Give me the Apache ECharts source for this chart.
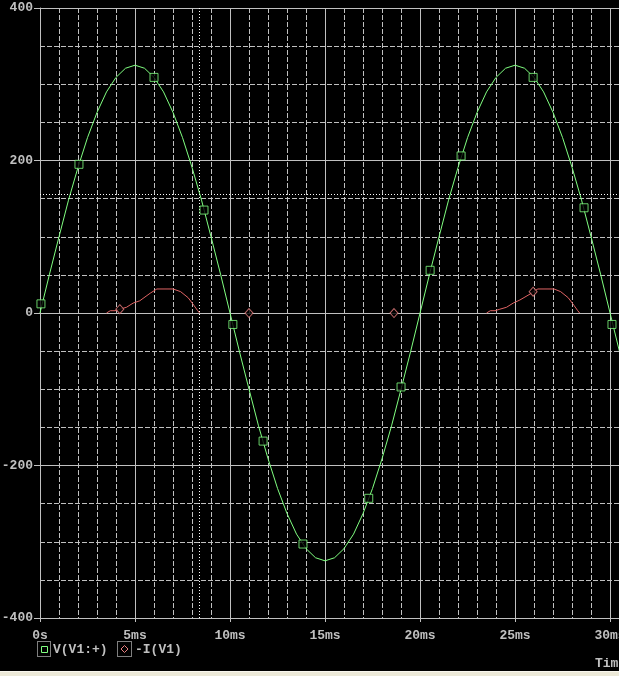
<!DOCTYPE html>
<html><head><meta charset="utf-8">
<script src="https://cdn.jsdelivr.net/npm/echarts@6/dist/echarts.min.js"></script>
<style>html,body{margin:0;padding:0;background:#000;overflow:hidden}#c{width:619px;height:676px;}</style>
</head><body><div id="c"></div>
<script>
// ---- data (time in ms) ----
const vTime = [0,0.5,1,1.5,2,2.5,3,3.5,4,4.5,5,5.5,6,6.5,7,7.5,8,8.5,9,9.5,10,
  10.5,11,11.5,12,12.5,13,13.5,14,14.5,15,15.5,16,16.5,17,17.5,18,18.5,19,19.5,20,
  20.5,21,21.5,22,22.5,23,23.5,24,24.5,25,25.5,26,26.5,27,27.5,28,28.5,29,29.5,30,30.5];
const vValues = [0,51,100,148,191,230,263,290,309,321,325,321,309,290,263,230,191,148,100,51,0,
  -51,-100,-148,-191,-230,-263,-290,-309,-321,-325,-321,-309,-290,-263,-230,-191,-148,-100,-51,0,
  51,100,148,191,230,263,290,309,321,325,321,309,290,263,230,191,148,100,51,0,-51];
// current pulses (zero elsewhere; the zero stretches coincide with the 0 axis line)
const iTime = [3.5,3.7,3.95,4.2,4.55,4.9,5.25,5.8,6.15,7.0,7.4,7.8,8.1,8.3,8.4,
  16,
  23.5,23.7,23.95,24.2,24.55,24.9,25.25,25.8,25.95,26.2,27.05,27.4,27.8,28.1,28.3,28.4];
const iValues = [0,3,3,5,7.5,13,16,26,31.5,31.5,28,20,10,3,0,
  '-',
  0,3,3,5,7.5,13,17,25,28,31.5,31.5,28,20,10,3,0];
const vMarkerTime = [0.05,2.05,6.0,8.63,10.15,11.74,13.84,17.3,19.0,20.53,22.16,25.95,28.63,30.1];
const vMarkerValues = [12,195,309,135,-15,-168,-303,-243,-97,56,206,309,138,-15];
const iMarkerTime = [4.2,11.0,18.63,25.95];
const iMarkerValues = [5,0,0,28];
const cursorTime = 8.37, cursorValue = 156;
const yTicks = [-400,-200,0,200,400];
const xLabelStep = 5;
const legendNames = ['V(V1:+)','-I(V1)'];

const zip = (a,b) => a.map((t,i)=>[t,b[i]]);
const GRAY = '#c0c0c0', GREEN = '#80ff80', RED = '#e06464';
const FONT = '"Liberation Mono", "DejaVu Sans Mono", monospace';

const chart = echarts.init(document.getElementById('c'), null, {renderer:'canvas'});
chart.setOption({
  backgroundColor:'#000',
  animation:false,
  grid:{left:40, right:0, top:8, bottom:58, containLabel:false, outerBoundsMode:'none'},
  xAxis:[
    {type:'value', min:0, max:30.47, interval:1,
     axisLine:{show:false,onZero:false}, axisTick:{show:false}, axisLabel:{show:false},
     splitLine:{show:true, lineStyle:{color:GRAY, width:1, type:[5,2]}}},
    {type:'value', min:0, max:30.47, interval:xLabelStep, position:'bottom',
     axisLine:{show:true,onZero:false,lineStyle:{color:GRAY,width:1}},
     axisTick:{show:true,length:4,lineStyle:{color:GRAY}},
     axisLabel:{show:true, margin:11, color:GRAY, fontFamily:FONT, fontWeight:'bold', fontSize:13,
       formatter:v => (Math.abs(v % xLabelStep) < 1e-6) ? (v===0 ? '0s' : v+'ms') : ''},
     splitLine:{show:true, lineStyle:{color:GRAY, width:1, type:'solid'}}}
  ],
  yAxis:[
    {type:'value', min:-400, max:400, interval:50,
     axisLine:{show:false,onZero:false}, axisTick:{show:false}, axisLabel:{show:false},
     splitLine:{show:true, lineStyle:{color:GRAY, width:1, type:[5,2]}}},
    {type:'value', min:yTicks[0], max:yTicks[yTicks.length-1], interval:200, position:'left',
     axisLine:{show:true,onZero:false,lineStyle:{color:GRAY,width:1}},
     axisTick:{show:true,length:6,lineStyle:{color:GRAY}},
     axisLabel:{show:true, margin:7, color:GRAY, fontFamily:FONT, fontWeight:'bold', fontSize:13},
     splitLine:{show:true, lineStyle:{color:GRAY, width:1, type:'solid'}}}
  ],
  series:[
    {name:legendNames[1], type:'line', xAxisIndex:0, yAxisIndex:0, data:zip(iTime,iValues),
     showSymbol:false, connectNulls:false, lineStyle:{color:RED, width:1}, z:2},
    {name:legendNames[0], type:'line', xAxisIndex:0, yAxisIndex:0, data:zip(vTime,vValues),
     showSymbol:false, lineStyle:{color:GREEN, width:1}, z:3,
     markLine:{silent:true, symbol:'none', label:{show:false}, z:4,
       data:[
         {xAxis:cursorTime, lineStyle:{color:'#ffffff', width:1, type:[1,2]}},
         {yAxis:cursorValue, lineStyle:{color:'#ffffff', width:1, type:[1,2]}}
       ]}},
    {type:'scatter', xAxisIndex:0, yAxisIndex:0, data:zip(vMarkerTime,vMarkerValues),
     symbol:'rect', symbolSize:8, z:8,
     itemStyle:{color:'#000', borderColor:GREEN, borderWidth:1}},
    {type:'scatter', xAxisIndex:0, yAxisIndex:0, data:zip(iMarkerTime,iMarkerValues),
     symbol:'diamond', symbolSize:[8,9], z:8,
     itemStyle:{color:'#000', borderColor:'#e88080', borderWidth:1}}
  ],
  graphic:[
    {type:'rect', shape:{x:37.5,y:641.5,width:13,height:15}, style:{fill:'none',stroke:'#ffffff',lineWidth:1,lineDash:[1,1]}},
    {type:'rect', shape:{x:41.5,y:646.5,width:6,height:6}, style:{fill:'#000',stroke:GREEN,lineWidth:1}},
    {type:'text', x:53, y:650, style:{text:legendNames[0], fill:GRAY, font:'bold 13px '+FONT, verticalAlign:'middle'}},
    {type:'rect', shape:{x:117.5,y:641.5,width:14,height:15}, style:{fill:'none',stroke:'#ffffff',lineWidth:1,lineDash:[1,1]}},
    {type:'polygon', shape:{points:[[124.5,645.5],[128,649],[124.5,652.5],[121,649]]}, style:{fill:'#000',stroke:'#e88080',lineWidth:1}},
    {type:'text', x:135, y:650, style:{text:legendNames[1], fill:GRAY, font:'bold 13px '+FONT, verticalAlign:'middle'}},
    {type:'text', x:595, y:664, style:{text:'Time', fill:GRAY, font:'bold 13px '+FONT, verticalAlign:'middle'}},
    {type:'rect', shape:{x:0,y:671,width:619,height:5}, style:{fill:'#ece9d8'}},
    {type:'rect', shape:{x:0,y:671,width:619,height:1}, style:{fill:'#f8f6ee'}}
  ]
});
</script></body></html>
